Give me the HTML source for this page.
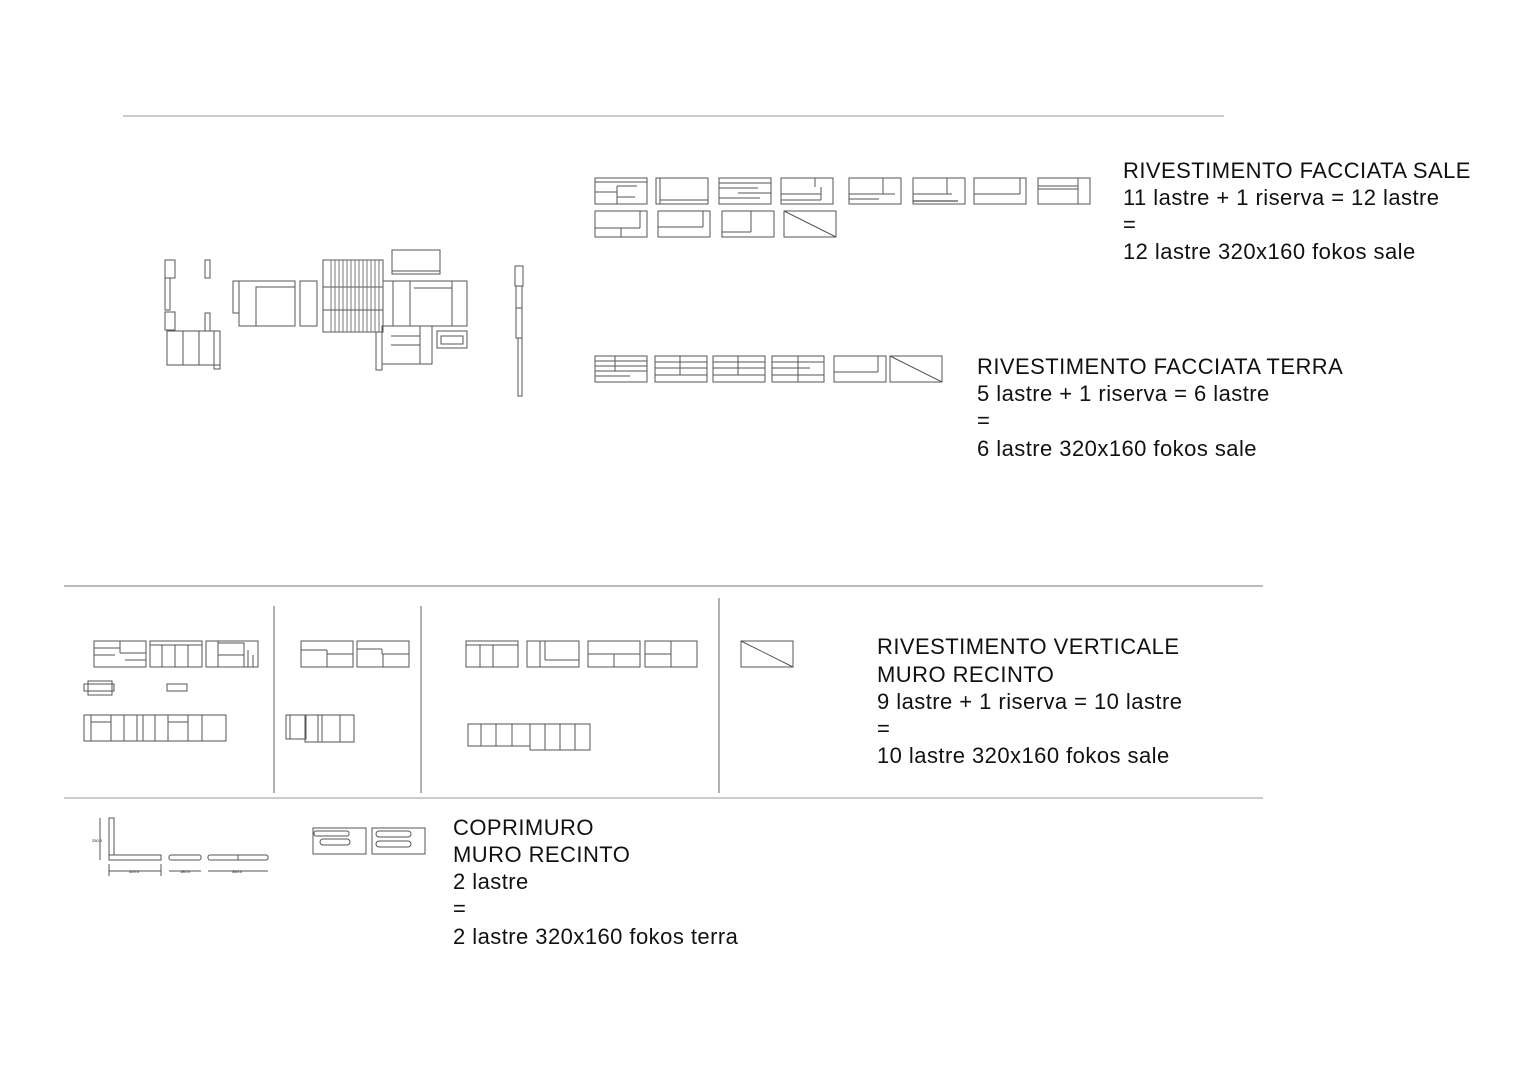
<!DOCTYPE html>
<html><head><meta charset="utf-8"><style>
html,body{margin:0;padding:0;background:#fff;}
svg{display:block;}
text{font-family:"Liberation Sans",sans-serif;font-size:22px;letter-spacing:0.45px;fill:#111;}
</style></head><body>
<svg width="1527" height="1080" viewBox="0 0 1527 1080" xmlns="http://www.w3.org/2000/svg">
<g fill="none" stroke="#555" stroke-width="1">
<line x1="123" y1="116" x2="1224" y2="116" stroke="#999"/>
<line x1="64" y1="586" x2="1263" y2="586" stroke="#777"/>
<line x1="64" y1="798" x2="1263" y2="798" stroke="#999"/>
<line x1="274" y1="606" x2="274" y2="793" stroke="#999" stroke-width="1.5"/>
<line x1="421" y1="606" x2="421" y2="793" stroke="#999" stroke-width="1.5"/>
<line x1="719" y1="598" x2="719" y2="793" stroke="#999" stroke-width="1.5"/>

<rect x="165" y="260" width="10" height="18"/><rect x="165" y="278" width="5" height="32"/><rect x="165" y="312" width="10" height="18"/>
<rect x="205" y="260" width="5" height="18"/><rect x="205" y="313" width="5" height="18"/>
<rect x="167" y="331" width="53" height="34"/><line x1="183" y1="331" x2="183" y2="365"/><line x1="199" y1="331" x2="199" y2="365"/><rect x="214" y="331" width="6" height="38"/>
<rect x="233" y="281" width="6" height="32"/><rect x="239" y="281" width="56" height="45"/><rect x="256" y="287" width="39" height="39"/><line x1="256" y1="287" x2="295" y2="287"/>
<rect x="300" y="281" width="17" height="45"/>
<rect x="323" y="260" width="60" height="27"/><rect x="323" y="287" width="60" height="45"/>
<g stroke="#777"><line x1="331" y1="260" x2="331" y2="332"/><line x1="335" y1="260" x2="335" y2="332"/><line x1="339" y1="260" x2="339" y2="332"/><line x1="343" y1="260" x2="343" y2="332"/><line x1="347" y1="260" x2="347" y2="332"/><line x1="351" y1="260" x2="351" y2="332"/><line x1="355" y1="260" x2="355" y2="332"/><line x1="359" y1="260" x2="359" y2="332"/><line x1="363" y1="260" x2="363" y2="332"/><line x1="367" y1="260" x2="367" y2="332"/><line x1="371" y1="260" x2="371" y2="332"/><line x1="375" y1="260" x2="375" y2="332"/><line x1="379" y1="260" x2="379" y2="332"/></g>
<line x1="323" y1="310" x2="383" y2="310"/>
<rect x="392" y="250" width="48" height="24"/><line x1="392" y1="271" x2="440" y2="271"/>
<rect x="383" y="281" width="10" height="45"/><rect x="393" y="281" width="17" height="45"/><rect x="410" y="281" width="57" height="45"/><line x1="414" y1="288" x2="452" y2="288"/><line x1="452" y1="281" x2="452" y2="326"/>
<rect x="376" y="332" width="6" height="38"/><rect x="382" y="326" width="50" height="38"/><line x1="391" y1="336" x2="420" y2="336"/><line x1="391" y1="345" x2="420" y2="345"/><line x1="420" y1="326" x2="420" y2="364"/>
<rect x="437" y="331" width="30" height="17"/><rect x="441" y="336" width="22" height="8"/>
<rect x="515" y="266" width="8" height="20"/><rect x="516" y="286" width="6" height="22"/><rect x="516" y="308" width="6" height="30"/><rect x="518" y="338" width="4" height="58"/>

<rect x="595" y="178" width="52" height="26"/><line x1="595" y1="182" x2="647" y2="182"/><line x1="595" y1="192" x2="617" y2="192"/><line x1="617" y1="186" x2="637" y2="186"/><line x1="617" y1="186" x2="617" y2="204"/><line x1="617" y1="197" x2="635" y2="197"/>
<rect x="656" y="178" width="52" height="26"/><line x1="660" y1="178" x2="660" y2="204"/><line x1="660" y1="200" x2="708" y2="200"/>
<rect x="719" y="178" width="52" height="26"/><line x1="719" y1="183" x2="771" y2="183"/><line x1="719" y1="188" x2="758" y2="188"/><line x1="738" y1="193" x2="771" y2="193"/><line x1="719" y1="198" x2="760" y2="198"/>
<rect x="781" y="178" width="52" height="26"/><line x1="815" y1="178" x2="815" y2="187"/><line x1="781" y1="194" x2="821" y2="194"/><line x1="821" y1="187" x2="821" y2="200"/><line x1="781" y1="200" x2="821" y2="200"/>
<rect x="849" y="178" width="52" height="26"/><line x1="883" y1="178" x2="883" y2="194"/><line x1="849" y1="194" x2="895" y2="194"/><line x1="849" y1="199" x2="879" y2="199"/>
<rect x="913" y="178" width="52" height="26"/><line x1="947" y1="178" x2="947" y2="194"/><line x1="913" y1="194" x2="952" y2="194"/><line x1="913" y1="201" x2="958" y2="201" stroke="#222"/>
<rect x="974" y="178" width="52" height="26"/><line x1="974" y1="194" x2="1020" y2="194"/><line x1="1020" y1="178" x2="1020" y2="194"/>
<rect x="1038" y="178" width="52" height="26"/><line x1="1038" y1="186" x2="1078" y2="186"/><line x1="1038" y1="189" x2="1078" y2="189"/><line x1="1078" y1="178" x2="1078" y2="204"/>
<rect x="595" y="211" width="52" height="26"/><line x1="640" y1="211" x2="640" y2="228"/><line x1="595" y1="228" x2="640" y2="228"/><line x1="621" y1="228" x2="621" y2="237"/>
<rect x="658" y="211" width="52" height="26"/><line x1="703" y1="211" x2="703" y2="227"/><line x1="658" y1="227" x2="703" y2="227"/>
<rect x="722" y="211" width="52" height="26"/><line x1="751" y1="211" x2="751" y2="232"/><line x1="722" y1="232" x2="751" y2="232"/>
<rect x="784" y="211" width="52" height="26"/><line x1="784" y1="211" x2="836" y2="237"/>

<rect x="595" y="356" width="52" height="26"/><line x1="595" y1="361" x2="647" y2="361"/><line x1="595" y1="366" x2="647" y2="366"/><line x1="595" y1="371" x2="647" y2="371"/><line x1="595" y1="376" x2="630" y2="376"/><line x1="615" y1="356" x2="615" y2="371"/>
<rect x="655" y="356" width="52" height="26"/><line x1="655" y1="362" x2="707" y2="362"/><line x1="655" y1="368" x2="707" y2="368"/><line x1="655" y1="375" x2="707" y2="375"/><line x1="680" y1="356" x2="680" y2="375"/>
<rect x="713" y="356" width="52" height="26"/><line x1="713" y1="362" x2="765" y2="362"/><line x1="713" y1="368" x2="765" y2="368"/><line x1="713" y1="375" x2="765" y2="375"/><line x1="738" y1="356" x2="738" y2="375"/>
<rect x="772" y="356" width="52" height="26"/><line x1="772" y1="362" x2="824" y2="362"/><line x1="772" y1="368" x2="810" y2="368"/><line x1="772" y1="375" x2="824" y2="375"/><line x1="798" y1="356" x2="798" y2="382"/>
<rect x="834" y="356" width="52" height="26"/><line x1="834" y1="372" x2="878" y2="372"/><line x1="878" y1="356" x2="878" y2="372"/>
<rect x="890" y="356" width="52" height="26"/><line x1="890" y1="356" x2="942" y2="382"/>

<rect x="94" y="641" width="52" height="26"/><line x1="94" y1="648" x2="120" y2="648"/><line x1="94" y1="655" x2="115" y2="655"/><line x1="120" y1="641" x2="120" y2="653"/><line x1="120" y1="653" x2="146" y2="653"/><line x1="125" y1="660" x2="146" y2="660"/>
<rect x="150" y="641" width="52" height="26"/><line x1="162" y1="645" x2="162" y2="667"/><line x1="175" y1="645" x2="175" y2="667"/><line x1="188" y1="645" x2="188" y2="667"/><line x1="150" y1="645" x2="202" y2="645"/>
<rect x="206" y="641" width="52" height="26"/><line x1="218" y1="641" x2="218" y2="667"/><rect x="218" y="643" width="26" height="24"/><line x1="218" y1="655" x2="244" y2="655"/><line x1="248" y1="650" x2="248" y2="667"/><line x1="253" y1="655" x2="253" y2="667"/>
<rect x="88" y="681" width="24" height="14"/><rect x="84" y="684" width="30" height="7"/>
<rect x="167" y="684" width="20" height="7"/>
<rect x="84" y="715" width="142" height="26"/><line x1="91" y1="715" x2="91" y2="741"/><line x1="111" y1="715" x2="111" y2="741"/><line x1="124" y1="715" x2="124" y2="741"/><line x1="137" y1="715" x2="137" y2="741"/><line x1="143" y1="715" x2="143" y2="741"/><line x1="155" y1="715" x2="155" y2="741"/><line x1="168" y1="715" x2="168" y2="741"/><line x1="188" y1="715" x2="188" y2="741"/><line x1="202" y1="715" x2="202" y2="741"/><line x1="91" y1="722" x2="111" y2="722"/><line x1="168" y1="722" x2="188" y2="722"/>
<rect x="301" y="641" width="52" height="26"/><line x1="301" y1="650" x2="327" y2="650"/><line x1="327" y1="650" x2="327" y2="667"/><line x1="327" y1="654" x2="353" y2="654"/>
<rect x="357" y="641" width="52" height="26"/><line x1="357" y1="649" x2="382" y2="649"/><line x1="382" y1="649" x2="382" y2="654"/><line x1="382" y1="654" x2="409" y2="654"/><line x1="383" y1="654" x2="383" y2="667"/>
<rect x="286" y="715" width="20" height="24"/><rect x="305" y="715" width="49" height="27"/><line x1="290" y1="715" x2="290" y2="739"/><line x1="318" y1="715" x2="318" y2="742"/><line x1="322" y1="715" x2="322" y2="742"/><line x1="340" y1="715" x2="340" y2="742"/>
<rect x="466" y="641" width="52" height="26"/><line x1="480" y1="645" x2="480" y2="667"/><line x1="493" y1="645" x2="493" y2="667"/><line x1="466" y1="645" x2="518" y2="645"/>
<rect x="527" y="641" width="52" height="26"/><line x1="540" y1="641" x2="540" y2="667"/><line x1="545" y1="641" x2="545" y2="660"/><line x1="545" y1="660" x2="579" y2="660"/>
<rect x="588" y="641" width="52" height="26"/><line x1="588" y1="654" x2="640" y2="654"/><line x1="614" y1="654" x2="614" y2="667"/>
<rect x="645" y="641" width="52" height="26"/><line x1="645" y1="654" x2="671" y2="654"/><line x1="671" y1="641" x2="671" y2="667"/>
<rect x="468" y="724" width="62" height="22"/><rect x="530" y="724" width="60" height="26"/><line x1="481" y1="724" x2="481" y2="746"/><line x1="496" y1="724" x2="496" y2="746"/><line x1="512" y1="724" x2="512" y2="746"/><line x1="545" y1="724" x2="545" y2="750"/><line x1="560" y1="724" x2="560" y2="750"/><line x1="575" y1="724" x2="575" y2="750"/>
<rect x="741" y="641" width="52" height="26"/><line x1="741" y1="641" x2="793" y2="667"/>

<rect x="109" y="818" width="5" height="37"/><rect x="109" y="855" width="52" height="5"/><line x1="114" y1="818" x2="114" y2="855"/>
<line x1="100" y1="818" x2="100" y2="860"/>
<line x1="109" y1="864" x2="109" y2="876"/><line x1="161" y1="864" x2="161" y2="876"/><line x1="109" y1="871" x2="161" y2="871"/>
<rect x="169" y="855" width="32" height="5" rx="2"/><line x1="169" y1="871" x2="201" y2="871"/>
<rect x="208" y="855" width="60" height="5" rx="2"/><line x1="238" y1="855" x2="238" y2="860"/><line x1="208" y1="871" x2="268" y2="871"/>
<rect x="313" y="828" width="53" height="26"/><rect x="314" y="831" width="35" height="5" rx="2"/><rect x="320" y="839" width="30" height="6" rx="3"/>
<rect x="372" y="828" width="53" height="26"/><rect x="376" y="831" width="35" height="6" rx="3"/><rect x="376" y="841" width="35" height="6" rx="3"/>
</g>
<g><text x="92" y="842" style="font-size:4px;letter-spacing:0">250.0</text><text x="129" y="873" style="font-size:4px;letter-spacing:0">320.0</text><text x="180" y="873" style="font-size:4px;letter-spacing:0">180.0</text><text x="232" y="873" style="font-size:4px;letter-spacing:0">360.0</text></g>

<text x="1123" y="178">RIVESTIMENTO FACCIATA SALE</text>
<text x="1123" y="205">11 lastre + 1 riserva = 12 lastre</text>
<text x="1123" y="232">=</text>
<text x="1123" y="259">12 lastre 320x160 fokos sale</text>

<text x="977" y="374">RIVESTIMENTO FACCIATA TERRA</text>
<text x="977" y="401">5 lastre + 1 riserva = 6 lastre</text>
<text x="977" y="428">=</text>
<text x="977" y="456">6 lastre 320x160 fokos sale</text>

<text x="877" y="654">RIVESTIMENTO VERTICALE</text>
<text x="877" y="682">MURO RECINTO</text>
<text x="877" y="709">9 lastre + 1 riserva = 10 lastre</text>
<text x="877" y="736">=</text>
<text x="877" y="763">10 lastre 320x160 fokos sale</text>

<text x="453" y="835">COPRIMURO</text>
<text x="453" y="862">MURO RECINTO</text>
<text x="453" y="889">2 lastre</text>
<text x="453" y="916">=</text>
<text x="453" y="944">2 lastre 320x160 fokos terra</text>
</svg>
</body></html>
